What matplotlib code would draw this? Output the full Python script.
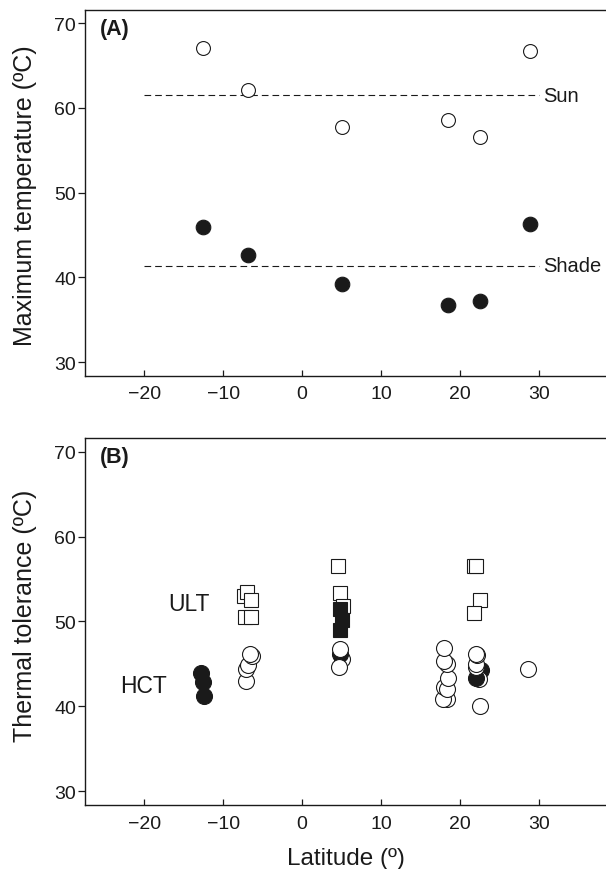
import matplotlib
matplotlib.use('Agg')
import matplotlib.pyplot as plt

plt.rcParams['font.family'] = ['Liberation Sans', 'DejaVu Sans']
ink = '#1a1a1a'

# Panel A: maximum operative temperatures per site
site_lat = [-12.5, -6.8, 5.0, 18.5, 22.5, 28.9]
sun_max = [67.1, 62.1, 57.8, 58.6, 56.6, 66.7]
shade_max = [45.9, 42.7, 39.2, 36.7, 37.2, 46.3]
sun_mean = 61.5
shade_mean = 41.4

# Panel B: thermal tolerance of individuals (drawn back to front)
tol_lat = [-12.85, -12.55, -12.4,
           -7.4, -7.0, -6.5, -7.2, -6.5,
           -7.1, -7.05, -6.85, -6.4, -6.65,
           4.5, 4.8, 5.2, 4.8, 5.0, 4.85,
           5.1, 4.8, 4.8, 4.7,
           21.8, 22.0, 22.5, 21.8,
           18.3, 17.9, 18.0, 18.3, 18.5, 18.3, 18.0, 18.0,
           22.7, 22.4, 22.0, 22.0, 22.0, 22.1, 22.0, 22.5,
           28.6]
tol_val = [43.9, 42.9, 41.2,
           53.0, 53.5, 52.5, 50.5, 50.5,
           43.0, 44.4, 44.9, 45.9, 46.2,
           56.5, 53.4, 51.8, 51.5, 50.2, 49.0,
           45.6, 46.2, 46.8, 44.6,
           56.5, 56.5, 52.5, 51.0,
           40.9, 40.9, 42.3, 42.1, 43.4, 45.0, 45.3, 46.9,
           44.3, 43.2, 43.3, 44.6, 45.0, 46.0, 46.2, 40.1,
           44.4]
tol_kind = (['HCT'] * 3 + ['ULT'] * 5 + ['HCT'] * 5 + ['ULT'] * 6 + ['HCT'] * 4
            + ['ULT'] * 4 + ['HCT'] * 17)
tol_filled = ([True] * 3 + [False] * 5 + [False] * 5
              + [False] * 3 + [True] * 3
              + [False, True, False, False]
              + [False] * 4 + [False] * 8
              + [True, False, True] + [False] * 6)

fig = plt.figure(figsize=(6.06, 8.70), dpi=100)
axA = fig.add_axes([0.1403, 0.567, 0.8597, 0.4207])
axB = fig.add_axes([0.1403, 0.0736, 0.8597, 0.4218])

for ax in (axA, axB):
    ax.set_xlim(-27.5, 38.5)
    ax.set_ylim(28.4, 71.6)
    ax.set_xticks([-20, -10, 0, 10, 20, 30])
    ax.set_yticks([30, 40, 50, 60, 70])
    ax.spines['right'].set_visible(False)
    for s in ('left', 'bottom', 'top'):
        ax.spines[s].set_linewidth(1.0)
        ax.spines[s].set_color(ink)
    ax.tick_params(axis='x', direction='in', length=4, width=0.9, pad=7,
                   labelsize=14, colors=ink)
    ax.tick_params(axis='y', direction='out', length=5, width=0.9, pad=1.5,
                   labelsize=14, colors=ink)

# Panel A
axA.plot([-20, 30], [sun_mean, sun_mean], color=ink, lw=0.8, dashes=(6, 3.6))
axA.plot([-20, 30], [shade_mean, shade_mean], color=ink, lw=0.8, dashes=(6, 3.6))
axA.plot(site_lat, sun_max, 'o', ms=10, mfc='white', mec=ink, mew=0.8)
axA.plot(site_lat, shade_max, 'o', ms=10.5, mfc=ink, mec=ink, mew=0.8)
axA.text(30.6, sun_mean, 'Sun', fontsize=14.5, va='center', ha='left', color=ink)
axA.text(30.6, shade_mean, 'Shade', fontsize=14.5, va='center', ha='left', color=ink)
axA.text(0.028, 0.978, '(A)', transform=axA.transAxes, fontsize=15.5,
         fontweight='bold', ha='left', va='top', color=ink)
axA.set_ylabel('Maximum temperature (ºC)', fontsize=18, color=ink)
axA.yaxis.set_label_coords(-0.092, 0.495)

# Panel B
for lat, val, kind, filled in zip(tol_lat, tol_val, tol_kind, tol_filled):
    if kind == 'ULT':
        axB.plot([lat], [val], 's', ms=9.6, mfc=ink if filled else 'white',
                 mec=ink, mew=0.8)
    else:
        axB.plot([lat], [val], 'o', ms=11.5, mfc=ink if filled else 'white',
                 mec=ink, mew=0.8)
axB.text(-11.7, 52.1, 'ULT', fontsize=16.5, ha='right', va='center', color=ink)
axB.text(-17.15, 42.5, 'HCT', fontsize=16.5, ha='right', va='center', color=ink)
axB.text(0.028, 0.978, '(B)', transform=axB.transAxes, fontsize=15.5,
         fontweight='bold', ha='left', va='top', color=ink)
axB.set_ylabel('Thermal tolerance (ºC)', fontsize=18, color=ink)
axB.yaxis.set_label_coords(-0.092, 0.518)
axB.set_xlabel('Latitude (º)', fontsize=17.5, color=ink)
axB.xaxis.set_label_coords(0.5, -0.114)

fig.savefig('out.png', dpi=100)
